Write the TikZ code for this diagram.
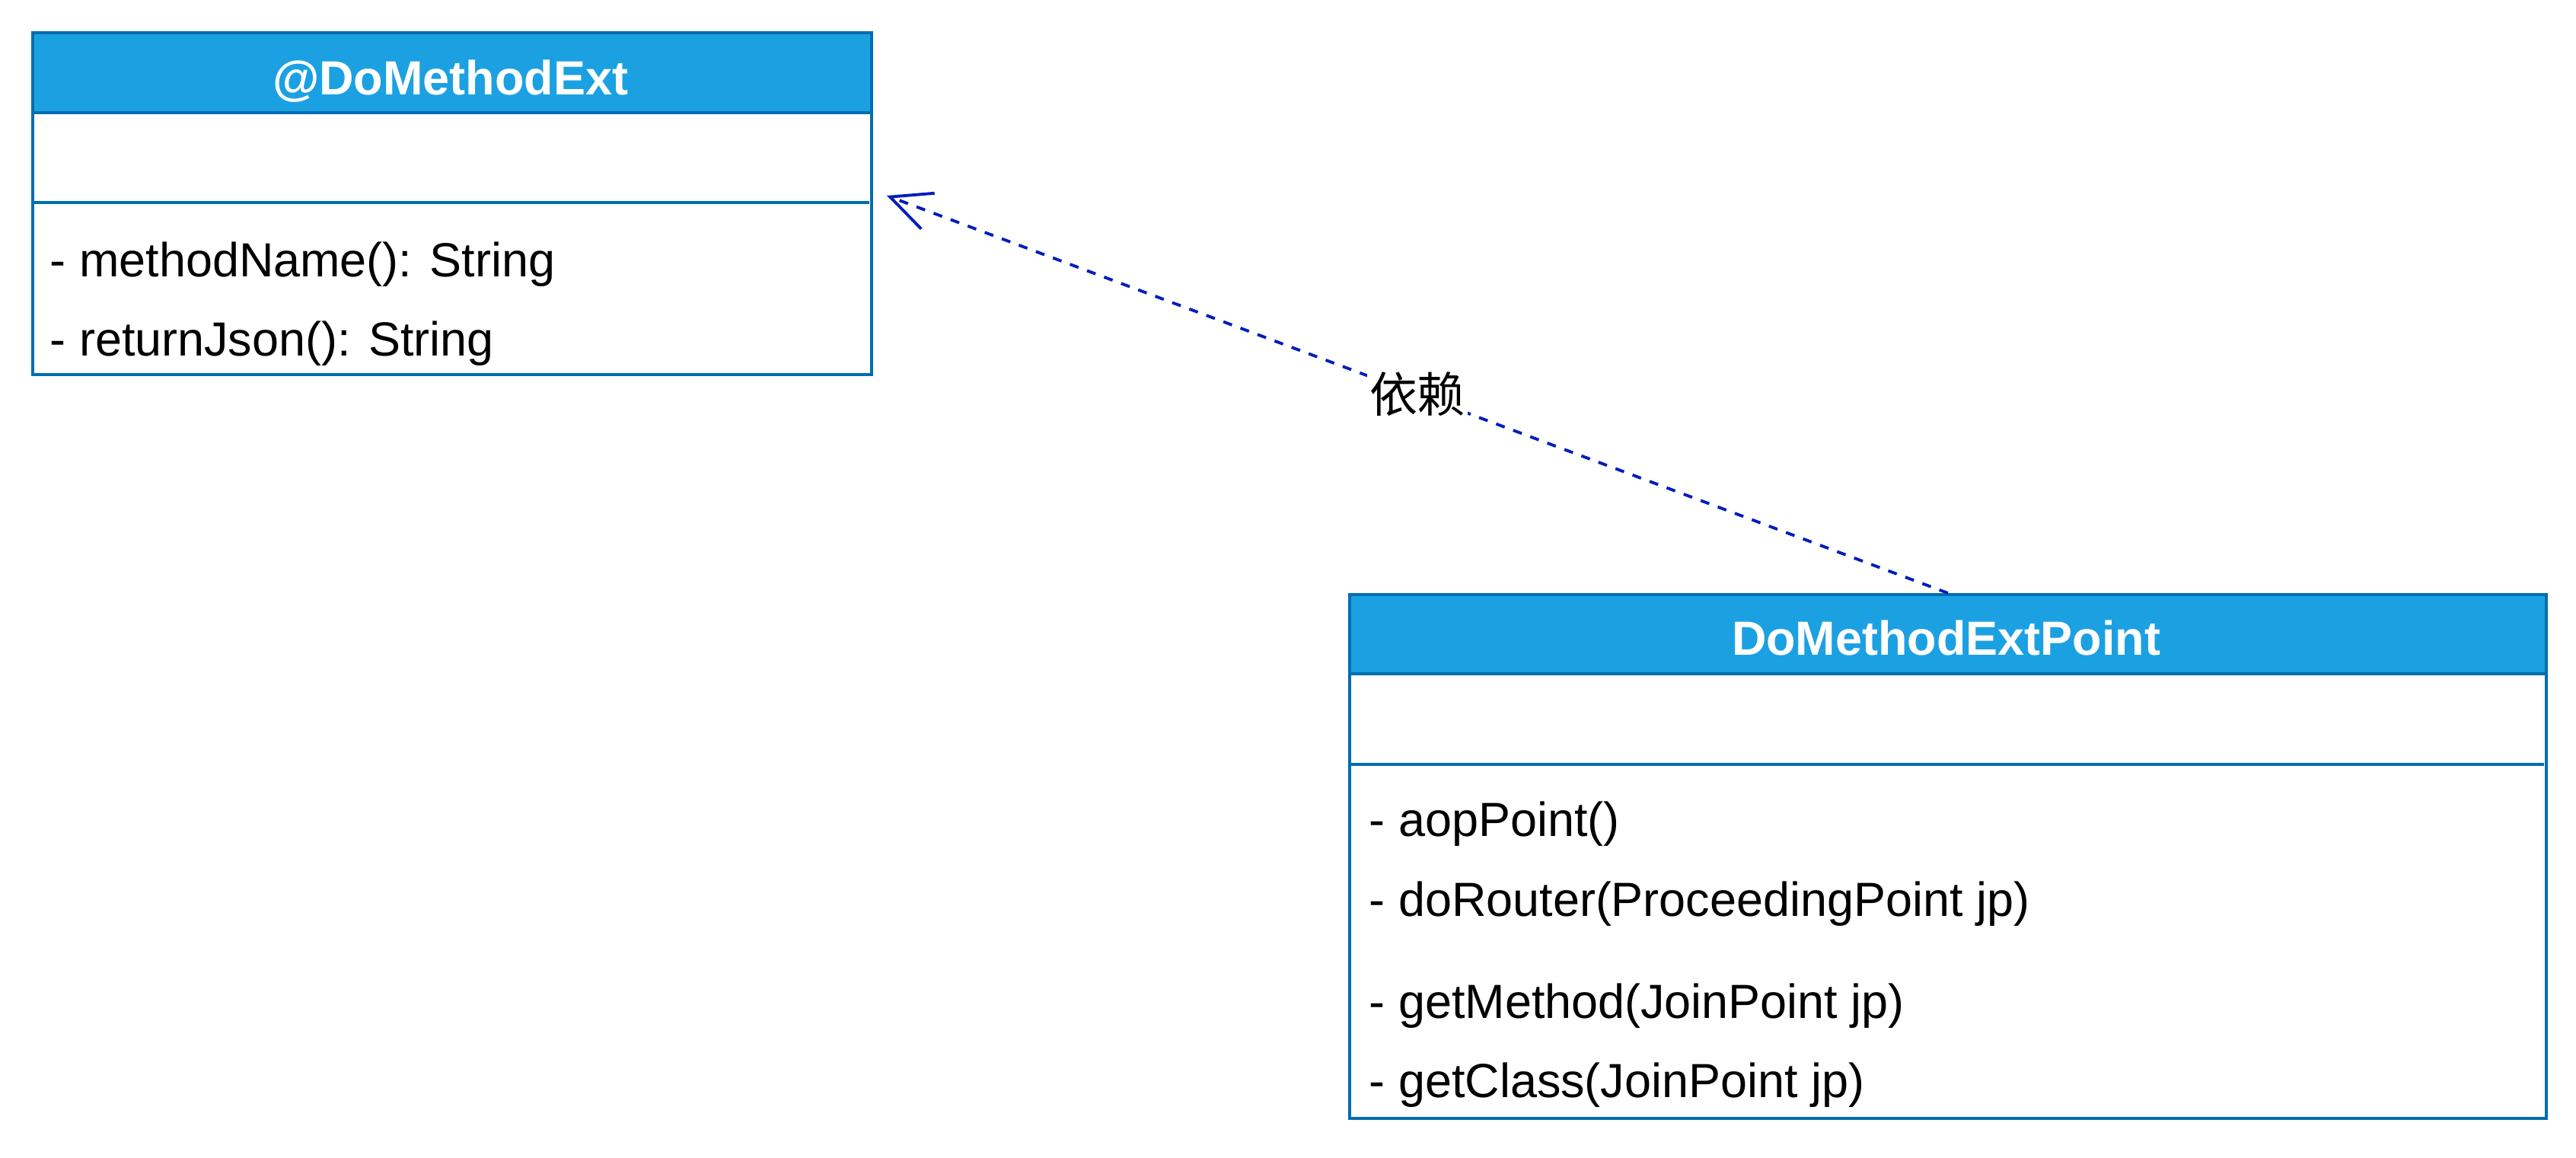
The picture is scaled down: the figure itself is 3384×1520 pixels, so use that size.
\documentclass[tikz,border=0pt]{standalone}
\usepackage{fontspec}
\setmainfont{Liberation Sans}
\newfontfamily\cjk{Noto Sans CJK SC}
\usetikzlibrary{arrows.meta}
\definecolor{hdrfill}{HTML}{1BA1E2}
\definecolor{hdrline}{HTML}{006EAF}
\definecolor{deplink}{HTML}{001DBC}
\tikzset{
  classbox/.style={draw=hdrline, line width=1.1pt, fill=white, rectangle, inner sep=0pt, anchor=north west},
  classhead/.style={draw=hdrline, line width=1.1pt, fill=hdrfill, rectangle, inner sep=0pt, anchor=north west},
  headtext/.style={font=\fontsize{17.9}{20}\selectfont\bfseries, text=white, anchor=base, inner sep=0pt},
  membertext/.style={font=\fontsize{17.9}{20}\selectfont, text=black, anchor=base west, inner sep=0pt},
  sepline/.style={draw=hdrline, line width=1.1pt},
  dependency/.style={draw=deplink, line width=1.1pt, dash pattern=on 3.4pt off 3.4pt, -{Straight Barb[length=0.53cm,width=0.5cm,line width=1.1pt]}},
  deplabel/.style={font=\cjk\fontsize{17.9}{20}\selectfont, fill=white, inner sep=1pt, text=black}
}
\begin{document}
\begin{tikzpicture}[x=0.01cm, y=-0.01cm]
\path[use as bounding box] (0,0) rectangle (3384,1520);
% left class
\node[classbox, minimum width=11.01cm, minimum height=4.49cm] (ext) at (41,41) {};
\node[classhead, minimum width=11.01cm, minimum height=1.05cm] (exthead) at (41,41) {};
\node[headtext] (exttitle) at (591.5,124) {@DoMethodExt};
\draw[sepline] (41,266) -- (1142,266);
\node[membertext] (m1) at (65,363) {- methodName(): String};
\node[membertext] (m2) at (65,467) {- returnJson(): String};
% right class
\node[classbox, minimum width=15.71cm, minimum height=6.88cm] (pt) at (1771,779) {};
\node[classhead, minimum width=15.71cm, minimum height=1.04cm] (pthead) at (1771,779) {};
\node[headtext] (pttitle) at (2556.5,860) {DoMethodExtPoint};
\draw[sepline] (1771,1004) -- (3342,1004);
\node[membertext] (p1) at (1798,1098) {- aopPoint()};
\node[membertext] (p2) at (1798,1203) {- doRouter(ProceedingPoint jp)};
\node[membertext] (p3) at (1798,1337) {- getMethod(JoinPoint jp)};
\node[membertext] (p4) at (1798,1441) {- getClass(JoinPoint jp)};
% dependency
\coordinate (tip) at (1165,257);
\draw[dependency] (pthead.north) -- node[deplabel, pos=0.5] (lbl) {依赖} (tip);
\end{tikzpicture}
\end{document}
